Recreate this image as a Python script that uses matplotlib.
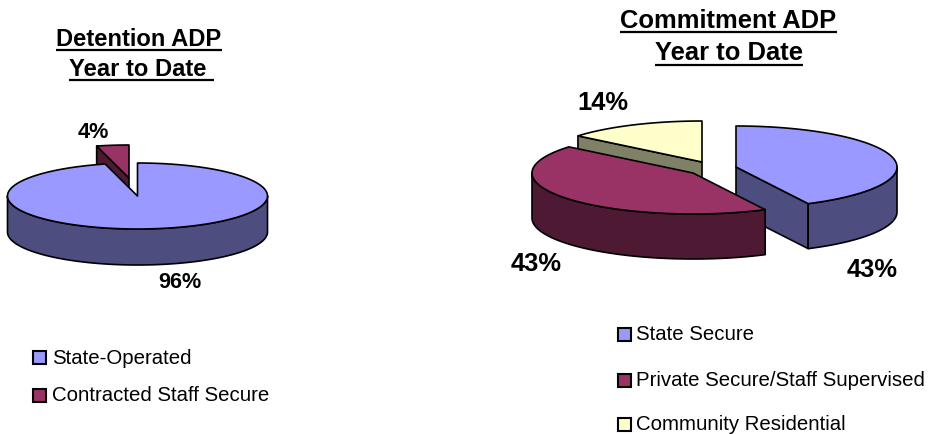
import numpy as np
import matplotlib
matplotlib.use("Agg")
import matplotlib.pyplot as plt
from matplotlib.patches import Polygon, Rectangle

plt.rcParams['font.family'] = ['Liberation Sans', 'DejaVu Sans']

# ---- data ----
det_categories = ["State-Operated", "Contracted Staff Secure"]
det_values = [96.0, 4.0]
com_categories = ["State Secure", "Private Secure/Staff Supervised", "Community Residential"]
com_values = [42.6, 43.4, 14.0]
title_det = ["Detention ADP", "Year to Date "]
title_com = ["Commitment ADP", "Year to Date"]

TOP = ["#9999FF", "#993366", "#FFFFCC"]
WALL = ["#4D4D80", "#4D1933", "#808066"]

W, H = 932, 434
fig = plt.figure(figsize=(W / 100, H / 100), dpi=100)
ax = fig.add_axes([0, 0, 1, 1])
ax.set_xlim(0, W)
ax.set_ylim(H, 0)
ax.axis('off')
LW = 1.2


def arc(cx, cy, rx, ry, a0, a1):
    t = np.radians(np.linspace(a0, a1, max(int(abs(a1 - a0) * 2), 2)))
    return np.column_stack([cx + rx * np.sin(t), cy - ry * np.cos(t)])


def draw_slice(cx, cy, rx, ry, depth, a0, a1, top, wall, z):
    """one extruded pie slice, clockwise from 12 o'clock"""
    down = np.array([0, depth])
    apex = np.array([[cx, cy]])
    if a0 > 180:
        e = arc(cx, cy, rx, ry, a0, a0)[:1]
        ax.add_patch(Polygon(np.vstack([apex, e, e + down, apex + down]), fc=wall, ec='k', lw=LW, zorder=z, joinstyle='round'))
    if a1 < 180:
        e = arc(cx, cy, rx, ry, a1, a1)[:1]
        ax.add_patch(Polygon(np.vstack([apex, e, e + down, apex + down]), fc=wall, ec='k', lw=LW, zorder=z, joinstyle='round'))
    lo, hi = max(a0, 90), min(a1, 270)
    if hi > lo:
        rim = arc(cx, cy, rx, ry, lo, hi)
        ax.add_patch(Polygon(np.vstack([rim, (rim + down)[::-1]]), fc=wall, ec='k', lw=LW, zorder=z, joinstyle='round'))
    ax.add_patch(Polygon(np.vstack([apex, arc(cx, cy, rx, ry, a0, a1)]), fc=top, ec='k', lw=LW, zorder=z + 0.5, joinstyle='round'))


def angles(values):
    c = np.cumsum([0] + list(values)) / sum(values) * 360
    return c[:-1], c[1:]


# Detention pie
a0, a1 = angles(det_values)
draw_slice(129, 178, 130, 33, 36, a0[1], a1[1], TOP[1], WALL[1], 2)
draw_slice(137.5, 196, 130, 33, 36, a0[0], a1[0], TOP[0], WALL[0], 3)

# Commitment pie
a0, a1 = angles(com_values)
draw_slice(702, 162, 161, 41, 45, a0[2], a1[2], TOP[2], WALL[2], 2)
draw_slice(736, 167, 161, 41, 45, a0[0], a1[0], TOP[0], WALL[0], 3)
draw_slice(693, 173, 161, 41, 45, a0[1], a1[1], TOP[1], WALL[1], 4)

# Titles
fig.canvas.draw()
rend = fig.canvas.get_renderer()


def title(x, y, s, size, uy):
    t = ax.text(x, y, s, fontsize=size, fontweight='bold', ha='center', va='baseline', zorder=10)
    bb = t.get_window_extent(rend)
    ax.plot([bb.x0, bb.x1], [uy, uy], color='k', lw=1.6, solid_capstyle='butt', zorder=10)


title(139, 45.5, title_det[0], 17.1, 49.5)
title(141.5, 76, title_det[1], 17.1, 80)
title(728.5, 28, title_com[0], 18.4, 31.5)
title(729, 60, title_com[1], 18.4, 64.5)

# Percentage labels
pct = lambda v: f"{v:.0f}%"
ax.text(93, 138, pct(det_values[1]), fontsize=15.6, fontweight='bold', ha='center', va='baseline')
ax.text(180, 288, pct(det_values[0]), fontsize=15.6, fontweight='bold', ha='center', va='baseline')
ax.text(603, 110, pct(com_values[2]), fontsize=18.4, fontweight='bold', ha='center', va='baseline')
ax.text(536, 271, pct(com_values[1]), fontsize=18.4, fontweight='bold', ha='center', va='baseline')
ax.text(872, 277, pct(com_values[0]), fontsize=18.4, fontweight='bold', ha='center', va='baseline')


# Legends
def legend(x, tx, ys, cats, size):
    for i, (y, c) in enumerate(zip(ys, cats)):
        ax.add_patch(Rectangle((x, y - 6.5), 13, 13, fc=TOP[i], ec='k', lw=1.5, zorder=5))
        ax.text(tx, y + 6, c, fontsize=size, ha='left', va='baseline', zorder=5)


legend(32.5, 52, [357.5, 395], det_categories, 14.7)
legend(618, 636, [334, 380, 424.5], com_categories, 14.7)

fig.savefig('out.png', dpi=100)
